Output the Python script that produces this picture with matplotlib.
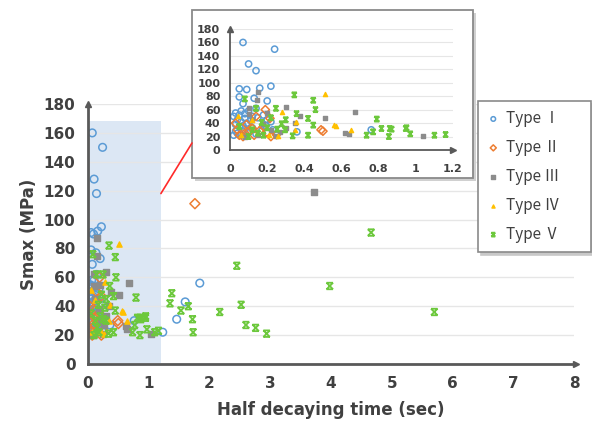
import matplotlib.pyplot as plt
from matplotlib.path import Path
from matplotlib.patches import Rectangle, ConnectionPatch

# ---- data (half decaying time [sec], Smax [MPa]) ----
type1_x = [0.07, 0.24, 0.10, 0.14, 0.05, 0.09, 0.16, 0.22, 0.05, 0.13, 0.20, 0.07, 0.06, 0.10, 0.14,
           0.04, 0.06, 0.08, 0.03, 0.05, 0.09, 0.11, 0.12, 0.15, 0.18, 0.20, 0.22, 0.03, 0.04, 0.06,
           0.08, 0.10, 0.12, 0.02, 0.03, 0.05, 0.07, 0.17, 0.25, 0.36, 0.76, 1.23, 1.46, 1.60, 1.84,
           0.02, 0.14, 0.19, 0.08, 0.23]
type1_y = [160, 150, 128, 118, 91, 90, 92, 95, 79, 77, 73, 69, 58, 58, 62,
           45, 42, 47, 38, 35, 40, 44, 50, 48, 52, 45, 42, 28, 25, 22,
           30, 26, 33, 50, 55, 52, 36, 28, 22, 27, 30, 22, 31, 43, 56,
           22, 24, 37, 54, 30]

type2_x = [1.76, 0.19, 0.14, 0.215, 0.49, 0.50, 0.08, 0.10, 0.12, 0.16, 0.20, 0.05, 0.07, 0.13,
           0.25, 0.04, 0.18, 0.09, 0.22, 0.03]
type2_y = [111, 60, 50, 47, 30, 28, 25, 28, 32, 29, 26, 22, 20, 22,
           23, 30, 35, 38, 20, 40]

type3_x = [3.72, 0.15, 0.30, 0.67, 0.51, 0.62, 1.04, 0.143, 0.376, 0.64, 0.10, 0.20, 0.12, 0.18,
           0.22, 0.27, 0.30, 0.15, 0.08, 0.25, 0.35, 0.10]
type3_y = [119, 87, 64, 56, 48, 26, 21, 75, 50, 24, 54, 55, 45, 38,
           30, 27, 33, 22, 20, 21, 40, 62]

type4_x = [0.51, 0.56, 0.65, 0.045, 0.355, 0.57, 0.26, 0.21, 0.12, 0.28, 0.06, 0.35]
type4_y = [83, 37, 30, 51, 41, 36, 21, 22, 44, 57, 22, 30]

type5_x = [0.346, 0.448, 0.247, 0.46, 0.358, 0.42, 0.448, 0.278, 0.296, 0.254, 0.337, 0.42, 0.735,
           0.79, 0.815, 0.855, 0.87, 0.946, 0.97, 0.17, 0.12, 0.15, 0.18, 0.20, 0.10, 0.22, 0.14,
           0.08, 0.30, 0.05, 1.10, 1.16, 0.77, 0.86, 0.95, 1.38, 1.35, 1.53, 1.65, 1.72, 1.73,
           2.17, 2.45, 2.52, 2.60, 2.76, 2.94, 4.66, 3.98, 5.70]
type5_y = [82, 74, 62, 60, 54, 47, 37, 39, 30, 31, 21, 22, 22,
           46, 32, 20, 31, 32, 24, 41, 30, 25, 22, 33, 20, 48, 62,
           76, 45, 35, 22, 23, 27, 32, 33, 49, 42, 37, 40, 31, 22,
           36, 68, 41, 27, 25, 21, 91, 54, 36]

labels = ['Type Ⅰ', 'Type Ⅱ', 'Type Ⅲ', 'Type Ⅳ', 'Type Ⅴ']
zoom_xmax = 1.2
shade_top = 167

# hourglass-like "x" marker as in Excel
xbox = Path([(-1, 1), (1, -1), (1, 1), (-1, -1), (-1, 1), (1, 1), (-1, -1), (1, -1)],
            [Path.MOVETO, Path.LINETO, Path.MOVETO, Path.LINETO,
             Path.MOVETO, Path.LINETO, Path.MOVETO, Path.LINETO])

series = [
    (type1_x, type1_y, dict(marker='o', facecolors='none', edgecolors='#5B9BD5', linewidths=1.1)),
    (type2_x, type2_y, dict(marker='D', facecolors='none', edgecolors='#ED7D31', linewidths=1.1)),
    (type3_x, type3_y, dict(marker='s', color='#8C8C8C')),
    (type4_x, type4_y, dict(marker='^', color='#FFC000')),
    (type5_x, type5_y, dict(marker=xbox, facecolors='none', edgecolors='#6CC83C', linewidths=1.3)),
]
main_sizes = [30, 26, 14, 14, 22]
inset_sizes = [20, 18, 9, 9, 13]
tick_col = '#404040'
axis_col = '#595959'

fig = plt.figure(figsize=(5.92, 4.21), dpi=100)

# ---- main axes ----
ax = fig.add_axes([88/592, 1-364/421, 486/592, 260/421])
ax.set_xlim(0, 8)
ax.set_ylim(0, 180)
ax.set_xticks(range(0, 9))
ax.set_yticks(range(0, 181, 20))
ax.grid(axis='y', color='#E6E6E6', linewidth=1)
ax.set_axisbelow(True)
for s in ['top', 'right']:
    ax.spines[s].set_visible(False)
for s in ['left', 'bottom']:
    ax.spines[s].set_color(axis_col)
    ax.spines[s].set_linewidth(2)
ax.tick_params(length=0, pad=9, labelsize=11, labelcolor=tick_col)
for lb in ax.get_xticklabels() + ax.get_yticklabels():
    lb.set_fontweight('bold')
ax.plot(1.005, 0, '>', color=axis_col, ms=5, transform=ax.transAxes, clip_on=False)
ax.plot(0, 1.0, '^', color=axis_col, ms=5, transform=ax.transAxes, clip_on=False)
ax.add_patch(Rectangle((0, 1), zoom_xmax, shade_top, color='#DCE7F4', zorder=0.5, lw=0))

handles = []
for (xs, ys, kw), sz in zip(series, main_sizes):
    handles.append(ax.scatter(xs, ys, s=sz, zorder=2, **kw))

ax.set_xlabel('Half decaying time (sec)', fontsize=12, fontweight='bold', color=tick_col, labelpad=7)
ax.set_ylabel('Smax (MPa)', fontsize=12, fontweight='bold', color=tick_col, labelpad=4)

# ---- inset frame ----
fx0, fy0, fw, fh = 192/592, 1-178/421, 281/592, 168/421
fig.patches.append(Rectangle((fx0 + 3/592, fy0 - 3/421), fw, fh, transform=fig.transFigure,
                             facecolor='#D0D0D0', edgecolor='none', zorder=1))
fig.patches.append(Rectangle((fx0, fy0), fw, fh, transform=fig.transFigure,
                             facecolor='white', edgecolor='#8A8A8A', lw=1.3, zorder=1.1))

# ---- inset axes ----
axi = fig.add_axes([230/592, 1-150/421, 223/592, 121/421], zorder=2)
axi.patch.set_alpha(0)
axi.set_xlim(0, 1.2)
axi.set_ylim(0, 180)
axi.set_xticks([0, 0.2, 0.4, 0.6, 0.8, 1, 1.2])
axi.set_xticklabels(['0', '0.2', '0.4', '0.6', '0.8', '1', '1.2'])
axi.set_yticks(range(0, 181, 20))
axi.grid(axis='y', color='#E6E6E6', linewidth=0.8)
axi.set_axisbelow(True)
for s in ['top', 'right']:
    axi.spines[s].set_visible(False)
for s in ['left', 'bottom']:
    axi.spines[s].set_color(axis_col)
    axi.spines[s].set_linewidth(1.3)
axi.tick_params(length=0, pad=7, labelsize=8, labelcolor=tick_col)
axi.tick_params(axis='x', pad=10)
for lb in axi.get_xticklabels() + axi.get_yticklabels():
    lb.set_fontweight('bold')
axi.plot(1.0, 0, '>', color=axis_col, ms=4, transform=axi.transAxes, clip_on=False)
axi.plot(0, 1.0, '^', color=axis_col, ms=4, transform=axi.transAxes, clip_on=False)
for (xs, ys, kw), sz in zip(series, inset_sizes):
    axi.scatter(xs, ys, s=sz, zorder=2, **kw)

# red pointer line
con = ConnectionPatch(xyA=(zoom_xmax, 118), coordsA=ax.transData,
                      xyB=(fx0, 1-143/421), coordsB=fig.transFigure,
                      color='#FF2A2A', lw=1.2, zorder=1.5)
fig.add_artist(con)

# ---- legend ----
leg = fig.legend(handles, labels, loc='upper left',
                 bbox_to_anchor=(478/592, 1-105/421, 113/592, 0.01), mode='expand',
                 prop={'family': ['Noto Sans CJK KR', 'DejaVu Sans'], 'size': 11},
                 frameon=True, fancybox=False, shadow={'color': '#C8C8C8', 'alpha': 1},
                 borderpad=0.6, labelspacing=0.78, handlelength=0.8, handletextpad=0.4,
                 markerscale=0.6, borderaxespad=0)
leg.get_frame().set_edgecolor('#8A8A8A')
leg.get_frame().set_linewidth(1.2)
for t in leg.get_texts():
    t.set_color(tick_col)

fig.savefig('out.png', dpi=100)
